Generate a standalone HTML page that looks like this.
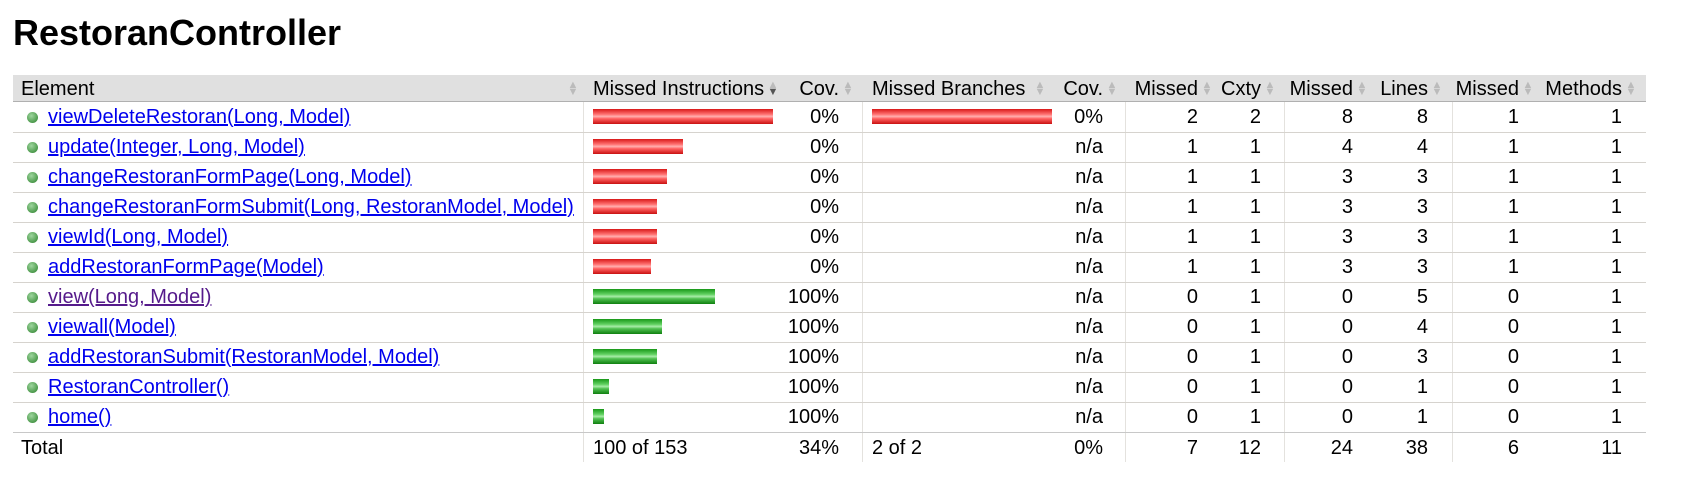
<!DOCTYPE html>
<html><head><meta charset="utf-8">
<style>
body{margin:0;background:#fff;width:1689px;height:490px;overflow:hidden;font-family:"Liberation Sans",Arial,sans-serif;position:relative}
h1{position:absolute;left:13px;top:12px;margin:0;font-size:36px;font-weight:bold;color:#000}
.abs{position:absolute;white-space:nowrap;font-size:20px;line-height:30px;color:#000}
.hdr{position:absolute;left:13px;top:75px;width:1633px;height:26px;background:#e0e0e0;border-bottom:1px solid #b0b0b0}
.line{position:absolute;left:13px;width:1633px;height:1px;background:#d6d3ce}
.vline{position:absolute;width:1px;background:#e4e2de}
a{color:#0000ee;text-decoration:underline}
a.visited{color:#551a8b}
.dot{position:absolute;width:11px;height:11px;border-radius:50%;background:radial-gradient(circle at 40% 35%,#9fd69f,#4c9a4c 70%,#3a7a3a)}
.bar{position:absolute;height:15px}
.red{background:linear-gradient(#d81818,#ff7070 35%,#ffb0b0 50%,#ff6060 65%,#c81010)}
.green{background:linear-gradient(#189818,#60d060 35%,#a8eca8 50%,#50c050 65%,#108010)}
.ic{position:absolute;font-size:11px;line-height:7px;color:#bbb;width:12px;text-align:center}
</style></head><body>
<h1>RestoranController</h1>
<div class="hdr"></div>
<div id="root"></div>
<script>
const methods=["viewDeleteRestoran(Long, Model)","update(Integer, Long, Model)","changeRestoranFormPage(Long, Model)","changeRestoranFormSubmit(Long, RestoranModel, Model)","viewId(Long, Model)","addRestoranFormPage(Model)","view(Long, Model)","viewall(Model)","addRestoranSubmit(RestoranModel, Model)","RestoranController()","home()"];
const missedInstr=[34,17,14,12,12,11,0,0,0,0,0];
const coveredInstr=[0,0,0,0,0,0,23,13,12,3,2];
const instrCov=["0%","0%","0%","0%","0%","0%","100%","100%","100%","100%","100%"];
const missedBranches=[2,0,0,0,0,0,0,0,0,0,0];
const branchCov=["0%","n/a","n/a","n/a","n/a","n/a","n/a","n/a","n/a","n/a","n/a"];
const missedCxty=[2,1,1,1,1,1,0,0,0,0,0];
const cxty=[2,1,1,1,1,1,1,1,1,1,1];
const missedLines=[8,4,3,3,3,3,0,0,0,0,0];
const lines=[8,4,3,3,3,3,5,4,3,1,1];
const missedMethods=[1,1,1,1,1,1,0,0,0,0,0];
const methodsCnt=[1,1,1,1,1,1,1,1,1,1,1];
const totals=["100 of 153","34%","2 of 2","0%","7","12","24","38","6","11"];
const headers=["Missed Instructions","Cov.","Missed Branches","Cov.","Missed","Cxty","Missed","Lines","Missed","Methods"];

const root=document.getElementById('root');
const TOP=102,RH=30,BARMAX=180,HY=74;
const rights=[839,1103,1198,1261,1353,1428,1519,1622];
function mk(cls,txt,x,y,extra){const d=document.createElement('div');d.className=cls;if(txt!=null)d.textContent=txt;d.style.left=x+'px';d.style.top=y+'px';if(extra)Object.assign(d.style,extra);root.appendChild(d);return d;}
function rightText(txt,r,y){const d=mk('abs',txt,0,y,{left:'auto',right:(1689-r)+'px'});return d;}
[583,862,1125,1284,1452].forEach(x=>{const v=mk('vline',null,x,102,{height:'360px'});

});
let h=mk('abs','Element',21,HY);


function icon(x,dark){const i=mk('ic',null,x,HY+8);i.innerHTML='<div>▲</div><div style="color:'+(dark?'#555':'#bbb')+'">▼</div>';

}
icon(567,false);
h=mk('abs',headers[0],593,HY);


icon(767,true);
h=mk('abs',headers[2],872,HY);


icon(1034,false);
const hRights=[839,1103,1198,1261,1353,1428,1519,1622];
const hTexts=[headers[1],headers[3],headers[4],headers[5],headers[6],headers[7],headers[8],headers[9]];
hTexts.forEach((t,k)=>{const e=rightText(t,hRights[k],HY);


icon(hRights[k]+3,false);});
const maxI=Math.max(...missedInstr.map((m,i)=>m+coveredInstr[i]));
const maxB=Math.max(...missedBranches,1);
methods.forEach((m,i)=>{
 const y=TOP+i*RH;
 const ln=mk('line',null,13,y+RH);
 
 
 const dot=mk('dot',null,27,y+10);
 
 
 const t=mk('abs',null,48,y);
 t.innerHTML='<a class="'+(i==6?'visited':'')+'">'+m+'</a>';
 
 
 const mi=missedInstr[i],ci=coveredInstr[i];
 if(mi>0){const b=mk('bar red',null,593,y+7,{width:(mi/maxI*BARMAX)+'px'});
 
 }
 if(ci>0){const b=mk('bar green',null,593+mi/maxI*BARMAX,y+7,{width:(ci/maxI*BARMAX)+'px'});
 
 }
 if(missedBranches[i]>0){const b=mk('bar red',null,872,y+7,{width:(missedBranches[i]/maxB*BARMAX)+'px'});
 
 }
 const vals=[instrCov[i],branchCov[i],missedCxty[i],cxty[i],missedLines[i],lines[i],missedMethods[i],methodsCnt[i]];
 vals.forEach((v,k)=>{const e=rightText(String(v),rights[k],y);
 
 });
});
const ty=TOP+methods.length*RH;
const tl=mk('line',null,13,ty,{background:'#c8c8c8'});


let e=mk('abs','Total',21,ty+1);


e=mk('abs',totals[0],593,ty+1);


e=mk('abs',totals[2],872,ty+1);


[totals[1],totals[3],totals[4],totals[5],totals[6],totals[7],totals[8],totals[9]].forEach((v,k)=>{const c=rightText(v,rights[k],ty+1);

});
</script>
</body></html>
